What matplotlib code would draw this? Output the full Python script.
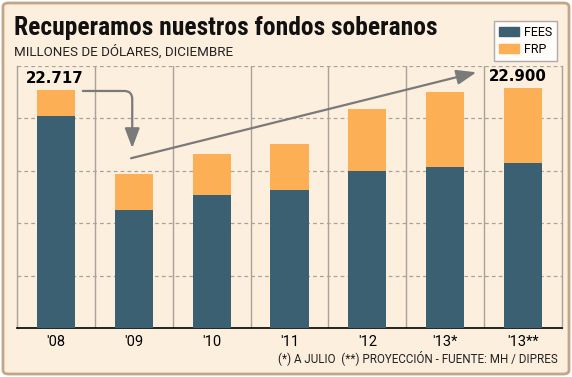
import matplotlib
matplotlib.use("Agg")
import matplotlib.pyplot as plt
from matplotlib import font_manager as fm
from matplotlib.patches import FancyBboxPatch, Patch
import numpy as np

categories = ["'08", "'09", "'10", "'11", "'12", "'13*", "'13**"]
fees = [20210, 11280, 12720, 13160, 15000, 15400, 15700]
frp = [2507, 3420, 3840, 4410, 5880, 7100, 7200]
label_first = "22.717"
label_last = "22.900"
title = "Recuperamos nuestros fondos soberanos"
subtitle = "MILLONES DE DÓLARES, DICIEMBRE"
footnote = "(*) A JULIO  (**) PROYECCIÓN - FUENTE: MH / DIPRES"

C_FEES = "#3a6072"
C_FRP = "#fdaf55"
BG = "#fcefdd"
GRID = "#a8a29a"
ARROW = "#7a7a7a"

def pick(cands):
    for c in cands:
        try:
            fm.findfont(fm.FontProperties(family=c), fallback_to_default=False)
            return c
        except Exception:
            pass
    return "DejaVu Sans"

NARROW = pick(["Roboto Condensed", "Liberation Sans Narrow", "DejaVu Sans Condensed", "Roboto", "DejaVu Sans"])
BASE = pick(["Roboto", "DejaVu Sans"])
plt.rcParams['font.family'] = [BASE, "DejaVu Sans"]

W, H = 572, 377
fig = plt.figure(figsize=(W / 100, H / 100), dpi=100)
fig.patch.set_facecolor("white")
frame = FancyBboxPatch((3 / W, 3 / H), (W - 6) / W, (H - 6) / H,
                       boxstyle="round,pad=0,rounding_size=0.01",
                       transform=fig.transFigure, facecolor=BG,
                       edgecolor="#c4a588", linewidth=2, zorder=-10)
fig.patches.append(frame)

ax = fig.add_axes([17 / W, (H - 328) / H, (562 - 17) / W, (328 - 66) / H])
ax.set_facecolor(BG)
x = np.arange(len(categories))
ax.set_xlim(-0.5, len(categories) - 0.5)
ax.set_ylim(0, 25000)

for yv in [5000, 10000, 15000, 20000, 25000]:
    ax.axhline(yv, color=GRID, lw=0.9, ls=(0, (3, 2.5)), zorder=1)
for xv in np.arange(0.5, len(categories) - 0.5, 1):
    ax.axvline(xv, color=GRID, lw=1.0, zorder=1)

ax.bar(x, fees, width=0.49, color=C_FEES, zorder=3)
ax.bar(x, frp, bottom=fees, width=0.49, color=C_FRP, zorder=3)

for s in ["left", "right"]:
    ax.spines[s].set_color(GRID)
    ax.spines[s].set_linewidth(1.0)
ax.spines["top"].set_visible(False)
ax.spines["bottom"].set_color("black")
ax.spines["bottom"].set_linewidth(1.2)
ax.set_yticks([])
ax.set_xticks(x)
ax.set_xticklabels(categories, fontsize=10.5)
ax.tick_params(axis="x", length=0, pad=5)

tot = [f + r for f, r in zip(fees, frp)]
ax.text(-0.02, 23400, label_first, ha="center", va="baseline",
        fontsize=10.8, fontweight="bold", family=["DejaVu Sans"])
ax.text(5.93, 23570, label_last, ha="center", va="baseline",
        fontsize=10.8, fontweight="bold", family=["DejaVu Sans"])

# bent arrow
ax.annotate("", xy=(0.98, 16900), xytext=(0.31, tot[0] - 100),
            arrowprops=dict(arrowstyle="-|>,head_length=1.2,head_width=0.45",
                            color=ARROW, lw=1.6,
                            connectionstyle="angle,angleA=0,angleB=90,rad=8"),
            zorder=5)
# straight arrow
ax.annotate("", xy=(5.40, 24400), xytext=(0.965, 16200),
            arrowprops=dict(arrowstyle="-|>,head_length=1.2,head_width=0.45",
                            color=ARROW, lw=1.6, shrinkA=0, shrinkB=0),
            zorder=5)

fig.text(14 / W, 1 - 34.5 / H, title, fontsize=18.4 if NARROW != BASE else 16.5,
         fontweight="bold", family=[NARROW, "DejaVu Sans"],
         ha="left", va="baseline", color="#111111")
fig.text(14 / W, 1 - 56 / H, subtitle, fontsize=9.6, ha="left",
         va="baseline", color="#222222")
fig.text(558 / W, 1 - 362 / H, footnote, fontsize=8.4, ha="right",
         va="baseline", color="#222222")

leg = fig.legend(handles=[Patch(color=C_FEES, label="FEES"),
                          Patch(color=C_FRP, label="FRP")],
                 loc="upper right", bbox_to_anchor=(557 / W, 1 - 21 / H),
                 fontsize=9, frameon=True, fancybox=False,
                 handlelength=1.6, handleheight=0.75, handletextpad=0.4,
                 labelspacing=0.3, borderpad=0.4, borderaxespad=0)
leg.get_frame().set_edgecolor("#999999")
leg.get_frame().set_linewidth(1.0)

fig.savefig("out.png", dpi=100, facecolor="white")
